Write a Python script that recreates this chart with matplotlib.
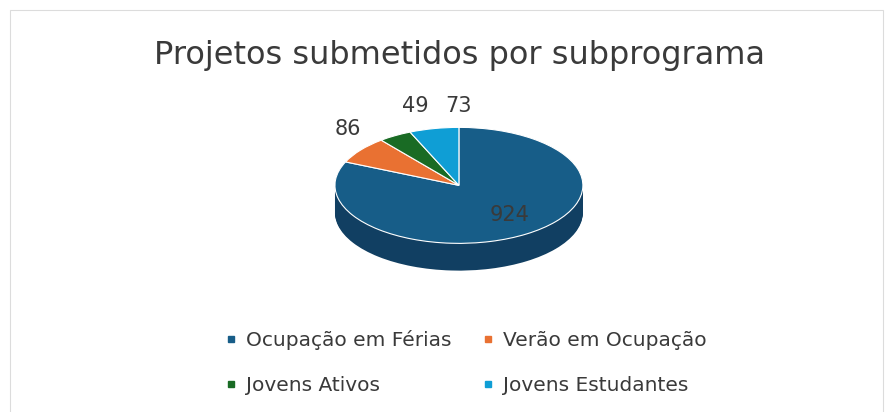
import numpy as np
import matplotlib.pyplot as plt
from matplotlib.lines import Line2D
from matplotlib.patches import Rectangle

# dados do grafico
categories = ['Ocupação em Férias', 'Verão em Ocupação', 'Jovens Ativos', 'Jovens Estudantes']
values = [924, 86, 49, 73]

colors = ['#175d88', '#E97132', '#196B24', '#0F9ED5']
side_colors = ['#113f62', '#a14d22', '#114a19', '#0a6e96']
text_color = '#3a3a3a'

fig = plt.figure(figsize=(8.93, 4.12), dpi=100)
fig.add_artist(Rectangle((0.011, -0.05), 0.978, 1.025, transform=fig.transFigure,
                         fill=False, edgecolor='#dcdcdc', lw=0.8))

ax = fig.add_axes([0.3404, 0.308, 0.347, 0.418])

# lateral do "3D": varias camadas da pizza deslocadas para baixo
depth = 0.47
n_layers = 30
for k in range(n_layers, 0, -1):
    d = depth * k / n_layers
    ax.pie(values, colors=side_colors, startangle=90, counterclock=False,
           center=(0, -d), radius=1, wedgeprops=dict(linewidth=0))

res = ax.pie(values, colors=colors, startangle=90, counterclock=False,
             wedgeprops=dict(linewidth=0.8, edgecolor='white'))
wedges = res[0]

ax.set_aspect('auto')
ax.set_xlim(-1.25, 1.25)
ax.set_ylim(-1.25 - depth, 1.25)
ax.axis('off')

# rotulos de dados
label_r = [0.62, 1.6, 1.6, 1.4]
label_nx = [0.07, 0.37, 0.47, 0.28]
for w, v, r, nx in zip(wedges, values, label_r, label_nx):
    mid = np.deg2rad((w.theta1 + w.theta2) / 2)
    ax.text(r * np.cos(mid) + nx, r * np.sin(mid), str(v), ha='center', va='center',
            fontsize=15, color=text_color)

fig.text(0.515, 0.866, 'Projetos submetidos por subprograma', ha='center', va='center',
         fontsize=23, color=text_color)

handles = [Line2D([], [], marker='s', linestyle='none', color=c, markersize=5) for c in colors]
order = [0, 2, 1, 3]
fig.legend([handles[i] for i in order], [categories[i] for i in order], ncol=2,
           loc='center', bbox_to_anchor=(0.522, 0.12), frameon=False,
           fontsize=14.5, labelcolor=text_color, handlelength=0.6, handletextpad=0.45,
           columnspacing=1.5, labelspacing=1.25)

fig.savefig('out.png', dpi=100)
